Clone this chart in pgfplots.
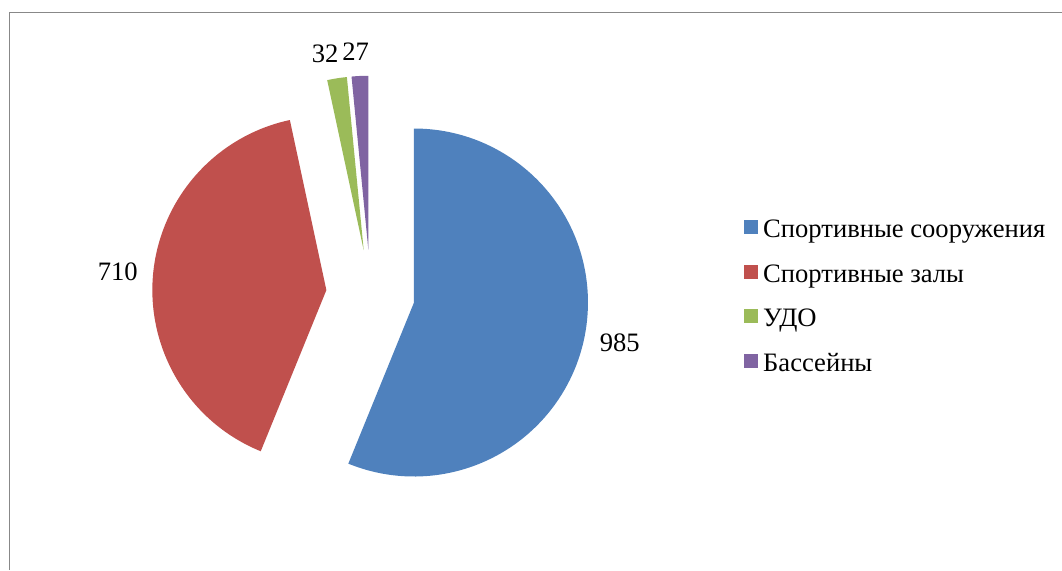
\documentclass[border=0pt]{standalone}
\usepackage{pgfplots}
\pgfplotsset{compat=1.18}
\usepackage{fontspec}
\setmainfont{Liberation Serif}
\definecolor{cBlue}{HTML}{4F81BD}
\definecolor{cRed}{HTML}{C0504D}
\definecolor{cGreen}{HTML}{9BBB59}
\definecolor{cPurple}{HTML}{8064A2}
\definecolor{cFrame}{HTML}{888888}
% data
\def\vA{985}\def\vB{710}\def\vC{32}\def\vD{27}
% geometry (axis units = pixels of the reference)
\def\cx{370.5}\def\cy{276}\def\rr{174}\def\ee{44.3}\def\dd{15}
\newcommand\pieslice[5]{% color, start angle, end angle, label, label xshift
  \pgfmathsetmacro\pmid{(#2+#3)/2}%
  \pgfmathsetmacro\pvx{\cx+\ee*cos(\pmid)}%
  \pgfmathsetmacro\pvy{\cy+\ee*sin(\pmid)}%
  \pgfmathsetmacro\plx{\pvx+(\rr+\dd)*cos(\pmid)+#5}%
  \pgfmathsetmacro\ply{\pvy+(\rr+\dd)*sin(\pmid)}%
  \pgfmathsetmacro\panc{\pmid+180}%
  \edef\ptmp{\noexpand\fill[#1] (axis cs:\pvx,\pvy) -- ++(#2:87pt) arc[start angle=#2, end angle=#3, radius=87pt] -- cycle;
    \noexpand\node[anchor=\panc, inner sep=0pt, font=\noexpand\fontsize{13.3}{15}\noexpand\selectfont] at (axis cs:\plx,\ply) {#4};}%
  \ptmp}
\begin{document}
\begin{tikzpicture}
\pgfmathsetmacro\T{\vA+\vB+\vC+\vD}
\pgfmathsetmacro\aA{90}
\pgfmathsetmacro\aB{\aA-360*(\vA/\T)}
\pgfmathsetmacro\aC{\aB-360*(\vB/\T)}
\pgfmathsetmacro\aD{\aC-360*(\vC/\T)}
\pgfmathsetmacro\aE{\aD-360*(\vD/\T)}
\begin{axis}[scale only axis, width=531pt, height=285pt,
  xmin=0, xmax=1062, ymin=0, ymax=570, hide axis, clip=false,
  legend cell align=left,
  legend style={at={(axis cs:744,353)}, anchor=north west, draw=none, fill=none,
    inner sep=0pt, row sep=9.3pt, font=\fontsize{13.3}{15}\selectfont,
    nodes={inner sep=0pt, text height=10pt, text depth=3pt},
    /tikz/every odd column/.append style={column sep=2.5pt}},
  ]
\addlegendimage{legend image code/.code={\fill[cBlue] (0pt,-1.5pt) rectangle (6.5pt,5pt);}}
\addlegendimage{legend image code/.code={\fill[cRed] (0pt,-1.5pt) rectangle (6.5pt,5pt);}}
\addlegendimage{legend image code/.code={\fill[cGreen] (0pt,-1.5pt) rectangle (6.5pt,5pt);}}
\addlegendimage{legend image code/.code={\fill[cPurple] (0pt,-1.5pt) rectangle (6.5pt,5pt);}}
\legend{Спортивные сооружения, Спортивные залы, УДО, Бассейны}
\pieslice{cBlue}{\aA}{\aB}{\vA}{0}
\pieslice{cRed}{\aB}{\aC}{\vB}{0}
\pieslice{cGreen}{\aC}{\aD}{\vC}{-8}
\pieslice{cPurple}{\aD}{\aE}{\vD}{-3}
\draw[cFrame, line width=0.75pt] (axis cs:9.5,0) -- (axis cs:9.5,557.5) -- (axis cs:1062,557.5);
\end{axis}
\pgfresetboundingbox
\useasboundingbox (0,0) rectangle (531pt,285pt);
\end{tikzpicture}
\end{document}
